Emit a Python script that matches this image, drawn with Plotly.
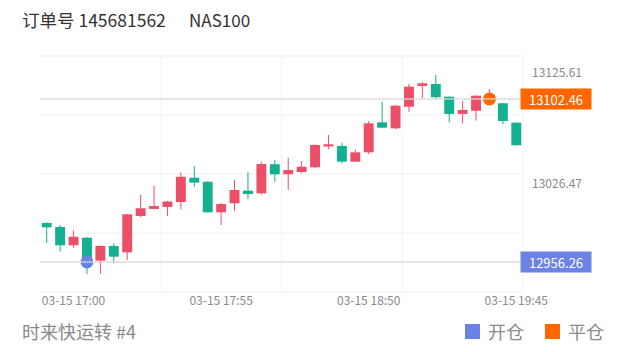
import plotly.graph_objects as go

# ---- data ----
x_idx = list(range(36))
open_ = [12991.2, 12987.6, 12971.2, 12978.0, 12957.4, 12970.6, 12964.9, 12997.5, 13003.8, 13005.6,
         13010.0, 13031.8, 13028.2, 13000.8, 13008.9, 13020.2, 13017.8, 13043.9, 13034.9, 13036.9,
         13041.2, 13059.8, 13060.3, 13046.2, 13054.6, 13081.5, 13076.1, 13095.5, 13114.1, 13115.9,
         13104.5, 13089.0, 13091.9, 13100.6, 13098.6, 13081.2]
high_ = [12992.1, 12989.4, 12984.3, 12978.6, 12970.9, 12973.0, 12999.3, 13016.3, 13024.7, 13011.0,
         13036.7, 13042.3, 13028.8, 13008.9, 13029.8, 13037.2, 13046.2, 13047.7, 13049.8, 13046.8,
         13061.6, 13070.1, 13063.2, 13057.3, 13082.7, 13100.0, 13097.0, 13115.9, 13117.9, 13124.0,
         13104.7, 13100.9, 13105.6, 13111.1, 13098.8, 13081.4]
low_ = [12973.3, 12965.5, 12969.0, 12945.5, 12945.5, 12955.1, 12958.0, 12996.6, 13003.3, 12997.5,
        13003.5, 13023.8, 13000.6, 12989.4, 13002.2, 13012.5, 13016.8, 13028.2, 13020.8, 13035.8,
        13040.5, 13057.6, 13044.8, 13045.9, 13052.8, 13076.4, 13075.5, 13091.0, 13103.1, 13102.4,
        13081.5, 13080.6, 13083.0, 13098.8, 13079.7, 13060.7]
close_ = [12987.3, 12971.2, 12978.9, 12958.0, 12970.6, 12961.0, 12999.0, 13004.4, 13006.4, 13010.5,
          13032.7, 13027.4, 13000.8, 13008.2, 13020.8, 13017.2, 13044.1, 13034.9, 13038.7, 13041.7,
          13061.2, 13061.8, 13046.2, 13054.6, 13080.6, 13076.7, 13096.4, 13113.5, 13116.5, 13104.0,
          13089.0, 13092.6, 13105.4, 13104.2, 13082.7, 13060.9]

xtick_idx = [2, 13, 24, 35]
xtick_text = ["03-15 17:00", "03-15 17:55", "03-15 18:50", "03-15 19:45"]
ytick_vals = [13125.61, 13026.47]
ytick_text = ["13125.61", "13026.47"]

open_idx, open_price = 3, 12956.26
close_idx, close_price = 33, 13102.46

title_left = "订单号 145681562"
title_right = "NAS100"
footer = "时来快运转 #4"
legend_labels = ["开仓", "平仓"]

RED = "#eb5068"
GREEN = "#14b08f"
BLUE = "#6b84e4"
ORANGE = "#ff6600"
FONT = "Noto Sans CJK SC, Noto Sans, sans-serif"

# plot area in pixels
W, H = 620, 352
L, R, T, B = 40, 523, 56, 292


def px(xp):
    return (xp - L) / (R - L)


def py(yp):
    return (B - yp) / (B - T)


fig = go.Figure()

# candles drawn as wick lines + body bars
for up, color in [(True, RED), (False, GREEN)]:
    wx, wy, bx, bbase, bh = [], [], [], [], []
    for i, o, h, l, c in zip(x_idx, open_, high_, low_, close_):
        if (c >= o) != up:
            continue
        wx += [i, i, None]
        wy += [l, h, None]
        bx.append(i)
        bbase.append(min(o, c))
        bh.append(abs(c - o))
    fig.add_trace(go.Scatter(x=wx, y=wy, mode="lines", line=dict(color=color, width=1),
                             showlegend=False, hoverinfo="skip"))
    fig.add_trace(go.Bar(x=bx, y=bh, base=bbase, width=0.74, marker=dict(color=color, line=dict(width=0)),
                         showlegend=False, hoverinfo="skip"))

shapes = []
# grid lines
for f in [0, 0.25, 0.5, 0.75, 1]:
    shapes.append(dict(type="line", xref="paper", yref="paper", x0=0, x1=1, y0=f, y1=f,
                       line=dict(color="#f0f0f0", width=1), layer="below"))
for f in [0.25, 0.5, 0.75, 1]:
    shapes.append(dict(type="line", xref="paper", yref="paper", x0=f, x1=f, y0=0, y1=1,
                       line=dict(color="#f3f3f3", width=1), layer="below"))
# mark lines
for p in [close_price, open_price]:
    shapes.append(dict(type="line", xref="paper", yref="y", x0=0, x1=1, y0=p, y1=p,
                       line=dict(color="rgba(215,215,215,0.85)", width=1.5), layer="above"))
# legend squares
for xp, c in [(465, BLUE), (545, ORANGE)]:
    shapes.append(dict(type="rect", xref="paper", yref="paper",
                       x0=px(xp), x1=px(xp + 15), y0=py(339), y1=py(324),
                       fillcolor=c, line=dict(width=0)))

fig.add_trace(go.Scatter(x=[open_idx], y=[open_price], mode="markers",
                         marker=dict(color=BLUE, size=13), showlegend=False, hoverinfo="skip"))
fig.add_trace(go.Scatter(x=[close_idx], y=[close_price], mode="markers",
                         marker=dict(color=ORANGE, size=13), showlegend=False, hoverinfo="skip"))

ann = []
ann.append(dict(xref="paper", yref="paper", x=px(20), y=py(20), xanchor="left", yanchor="middle",
                text=title_left, showarrow=False, font=dict(family=FONT, size=17.5, color="#333")))
ann.append(dict(xref="paper", yref="paper", x=px(187), y=py(20), xanchor="left", yanchor="middle",
                text=title_right, showarrow=False, font=dict(family=FONT, size=17, color="#333")))
ann.append(dict(xref="paper", yref="paper", x=px(20), y=py(331), xanchor="left", yanchor="middle",
                text=footer, showarrow=False, font=dict(family=FONT, size=18, color="#8a8a8a")))
for xp, t in [(486, legend_labels[0]), (566, legend_labels[1])]:
    ann.append(dict(xref="paper", yref="paper", x=px(xp), y=py(331), xanchor="left", yanchor="middle",
                    text=t, showarrow=False, font=dict(family=FONT, size=18, color="#8a8a8a")))
for p, c in [(close_price, ORANGE), (open_price, BLUE)]:
    ann.append(dict(xref="paper", yref="y", x=px(520), y=p, xanchor="left", yanchor="middle",
                    text=f"{p:.2f}", showarrow=False, bgcolor=c, width=68, height=18, borderpad=1,
                    align="center", font=dict(family=FONT, size=13, color="white")))

fig.update_layout(
    width=W, height=H,
    margin=dict(l=L, r=W - R, t=T, b=H - B),
    paper_bgcolor="white", plot_bgcolor="white",
    barmode="overlay",
    shapes=shapes, annotations=ann,
    xaxis=dict(range=[-0.5, 35.5], showgrid=False, zeroline=False,
               tickvals=xtick_idx, ticktext=xtick_text, ticks="", showline=False,
               tickfont=dict(family=FONT, size=12, color="#8a8a8a")),
    yaxis=dict(range=[12929.3, 13141.0], side="right", showgrid=False, zeroline=False,
               tickvals=ytick_vals, ticktext=ytick_text, ticks="", ticklabelstandoff=8,
               tickfont=dict(family=FONT, size=12, color="#8a8a8a")),
)

fig.write_html("out.html")
